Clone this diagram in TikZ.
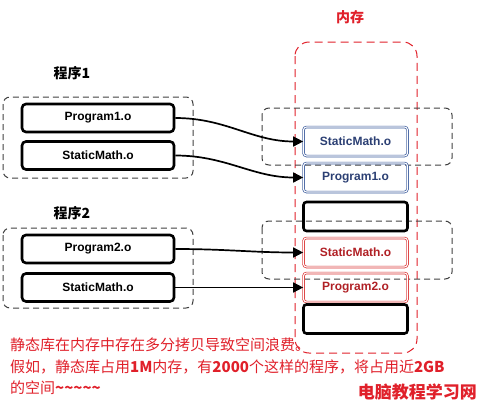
\documentclass[tikz,border=0pt]{standalone}
\usepackage{fontspec}
\setmainfont{Liberation Sans}
\newfontfamily\cjk{Noto Sans CJK SC}
\usetikzlibrary{arrows.meta}
\definecolor{memred}{HTML}{E0202A}
\definecolor{boxblue}{HTML}{3A5A9C}
\definecolor{txtblue}{HTML}{2B3F73}
\definecolor{boxred}{HTML}{D93030}
\definecolor{txtred}{HTML}{B02025}
\definecolor{noteRed}{HTML}{E0202A}
\begin{document}
\begin{tikzpicture}[x=1pt,y=-1pt,
  objfont/.style={font=\bfseries\fontsize{12}{14}\selectfont},
  objbox/.style={draw=black, line width=2.6pt, rounded corners=4pt,
    minimum width=152pt, minimum height=28pt, inner sep=0pt, objfont},
  slotbase/.style={rounded corners=3pt, minimum width=104pt, minimum height=29pt, inner sep=0pt, objfont},
  slotblue/.style={slotbase, draw=boxblue, double=white, double distance=1.1pt, line width=0.7pt, text=txtblue},
  slotred/.style={slotbase, draw=boxred, double=white, double distance=1.1pt, line width=0.7pt, text=txtred},
  slotempty/.style={slotbase, draw=black, line width=2.6pt},
  grp/.style={draw=black!75, line width=1pt, dash pattern=on 6pt off 4pt, rounded corners=7pt},
  mem/.style={draw=memred, line width=1pt, dash pattern=on 8pt off 5pt, rounded corners=14pt},
  conn/.style={draw=black, line width=1.7pt, -{Triangle[length=10pt,width=10pt]}},
  title/.style={font=\cjk\bfseries\fontsize{14}{16}\selectfont},
  note/.style={font=\cjk\fontsize{15}{18}\selectfont, text=noteRed, anchor=west, inner sep=0pt}
]
\useasboundingbox (0,0) rectangle (483,413);

% group frames
\draw[grp] (3,97) rectangle (193,178);
\draw[grp] (3,228) rectangle (193,308);
\draw[mem] (295,42) rectangle (417,353);
\draw[grp] (262,108) rectangle (452,165);
\draw[grp] (262,221) rectangle (452,279);

% titles
\node[title] (t1) at (72,73) {程序1};
\node[title] (t2) at (72,213) {程序2};
\node[title, text=memred] (tm) at (350,17) {内存};

% left objects
\node[objbox] (p1) at (98,118) {Program1.o};
\node[objbox] (s1) at (98,155.5) {StaticMath.o};
\node[objbox] (p2) at (98,249) {Program2.o};
\node[objbox] (s2) at (98,287.5) {StaticMath.o};

% memory slots
\node[slotblue] (ms1) at (355.5,141.5) {StaticMath.o};
\node[slotblue] (mp1) at (355.5,177.5) {Program1.o};
\node[slotempty] (me1) at (355.5,216.5) {};
\node[slotred] (ms2) at (355.5,252.5) {StaticMath.o};
\node[slotred] (mp2) at (355.5,287.5) {Program2.o};
\node[slotempty] (me2) at (355.5,319) {};

% connectors
\draw[conn] (p1.east) to[out=0,in=180] (ms1.west);
\draw[conn] (s1.east) to[out=0,in=180] (mp1.west);
\draw[conn] (p2.east) to[out=0,in=180] (ms2.west);
\draw[conn] (s2.east) to[out=0,in=180] (mp2.west);

% notes
\node[note] (n1) at (10,345) {静态库在内存中存在多分拷贝导致空间浪费。};
\node[note] (n2) at (10,367) {假如，静态库占用{\bfseries 1M}内存，有{\bfseries 2000}个这样的程序，将占用近{\bfseries 2GB}};
\node[note] (n3) at (10,388) {的空间{\bfseries\textasciitilde\textasciitilde\textasciitilde\textasciitilde\textasciitilde}};
\node[font=\cjk\bfseries\fontsize{17}{19}\selectfont, text=noteRed, anchor=east, inner sep=0pt] (wm) at (477,392) {电脑教程学习网};
\end{tikzpicture}
\end{document}
